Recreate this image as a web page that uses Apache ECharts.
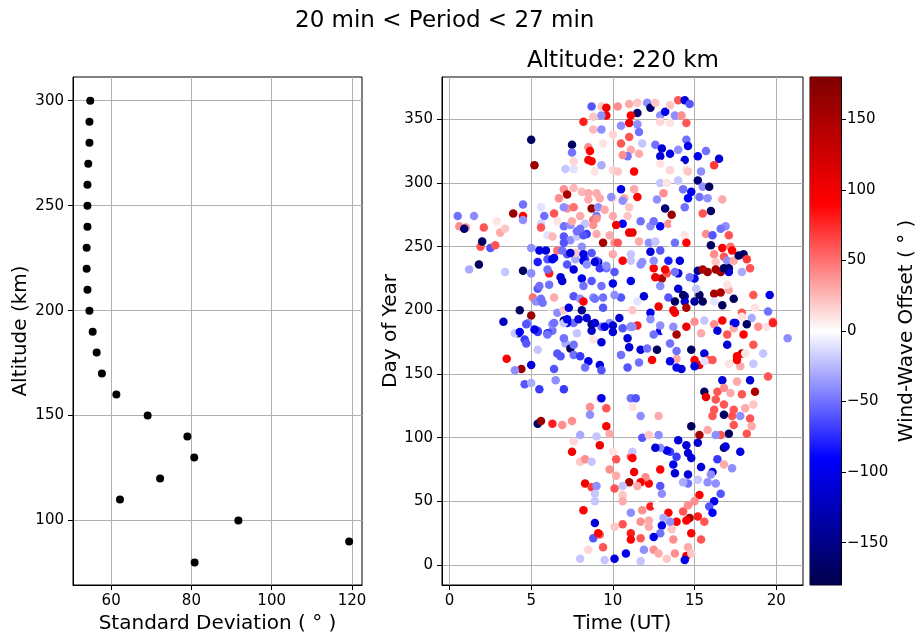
<!DOCTYPE html>
<html>
<head>
<meta charset="utf-8">
<script src="https://cdn.jsdelivr.net/npm/echarts@6/dist/echarts.min.js"></script>
<style>html,body{margin:0;padding:0;background:#fff}#chart{width:919px;height:635px}</style>
</head>
<body>
<div id="chart"></div>
<script>
// ---- Left panel: standard deviation vs altitude ----
const altitudes = [80, 90, 100, 110, 120, 130, 140, 150, 160, 170, 180, 190, 200, 210, 220, 230, 240, 250, 260, 270, 280, 290, 300];
const stdDeviation = [80.8, 119.3, 91.7, 62.2, 72.2, 80.7, 79.0, 69.1, 61.3, 57.7, 56.4, 55.4, 54.6, 54.1, 53.9, 53.9, 54.1, 54.1, 54.1, 54.3, 54.6, 54.6, 54.8];
const leftXTicks = [60, 80, 100, 120];
const leftYTicks = [100, 150, 200, 250, 300];

// ---- Right panel: [time (UT), day of year, wind-wave offset (deg)] ----
const windWavePoints = [
[8.7,360,-60],[8.2,348,80],[5.0,334,-170],[7.5,330,-170],[7.5,324,-50],[5.2,314,160],[7.1,311,-20],[8.5,328,40],[8.5,318,90],[8.8,352,20],
[7.0,295,40],[7.2,291,150],[7.6,296,25],[8.1,293,25],[6.7,288,40],[4.5,283,-50],[3.9,276,160],[4.5,274,90],[4.5,271,-40],[5.6,281,-10],
[5.8,274,-50],[6.4,276,60],[7.2,280,40],[7.6,281,50],[8.7,280,160],[8.5,287,30],[8.8,271,50],[0.5,274,-50],[1.5,274,-40],[0.6,266,40],
[1.0,265,40],[0.9,264,-160],[2.1,265,60],[2.9,270,10],[3.1,261,30],[3.4,264,20],[1.9,250,60],[2.0,254,-170],[2.5,249,-60],[2.8,251,60],
[1.2,232,-30],[1.8,236,-170],[3.4,230,-20],[4.5,231,-170],[5.0,249,-40],[5.0,229,-40],[4.3,200,-170],[3.3,191,-120],[5.0,196,160],[4.2,182,-150],
[5.6,268,-15],[6.0,259,-10],[6.3,258,25],[6.6,247,50],[7.0,258,-60],[7.4,255,-40],[7.8,258,-20],[8.1,250,-40],[8.4,260,-70],[5.5,247,-100],
[5.9,247,-110],[5.4,238,-80],[6.0,240,-60],[6.3,240,-90],[6.1,229,80],[6.0,232,-50],[6.8,226,-110],[6.9,223,-110],[7.2,236,-60],[7.6,232,-110],
[8.1,225,-100],[8.7,223,-60],[7.7,240,-30],[8.3,240,-70],[9.1,238,-100],[5.4,217,-60],[5.1,210,50],[5.3,207,-40],[6.1,203,0],[5.7,206,-50],
[6.4,210,30],[6.6,198,-40],[7.0,192,-170],[7.0,200,20],[7.3,202,-110],[7.6,211,-60],[8.0,209,-40],[8.1,200,-150],[8.2,207,90],[8.4,194,-110],
[8.8,210,-40],[8.7,184,-120],[7.6,190,-50],[6.3,184,-50],[5.4,184,-60],[4.8,190,-40],[6.0,182,-80],
[4.0,182,-20],[4.3,183,-100],[4.6,177,-70],[4.7,174,-60],[4.7,189,-60],[5.4,169,-20],[5.4,183,-70],[6.0,181,-50],[6.3,189,-40],[6.6,166,-60],
[6.8,164,-60],[7.1,174,-30],[7.4,170,-170],[7.6,165,-50],[8.0,164,-70],[8.5,160,-100],[8.7,189,-150],[7.8,182,-20],[8.8,177,10],[8.3,155,-50],
[9.2,157,-110],[3.5,162,90],[4.4,154,160],[4.0,153,-40],[5.0,157,-110],[4.6,142,-60],[5.0,143,-30],[5.5,138,-70],[6.4,154,-60],[6.5,145,-40],
[7.0,138,-70],[5.4,111,-170],[5.6,113,160],[6.3,111,80],[6.9,110,40],[7.5,113,40],[8.6,124,40],[8.6,118,-40],[9.2,131,15],[8.0,102,-30],
[7.6,97,15],[9.2,94,100],[7.5,89,100],[8.0,81,20],[8.3,83,40],[8.7,81,-20],[8.3,64,100],[8.7,61,70],[9.0,62,-40],[8.9,50,-20],
[8.2,43,90],[8.9,33,-110],[8.8,21,-60],[9.2,24,60],[8.5,12,15],[8.0,5,-20],
[9.3,360,20],[9.6,359,100],[9.6,353,100],[9.3,353,-40],[10.3,360,40],[11.0,362,30],[11.5,363,20],[11.5,355,-160],[11.1,353,90],[11.0,347,100],
[12.1,363,-40],[12.3,359,-160],[12.6,363,20],[12.9,353,-40],[13.2,356,-100],[13.5,361,20],[13.8,353,-40],[14.0,365,60],[14.4,365,-110],[14.7,362,-60],
[14.2,353,40],[14.5,347,60],[13.5,347,10],[12.9,348,15],[8.8,342,25],[9.3,342,-40],[10.5,345,-40],[11.5,346,-40],[11.6,340,-50],[11.0,336,60],
[10.0,338,15],[8.6,325,90],[8.7,317,90],[9.4,331,10],[10.5,331,60],[11.1,326,30],[11.6,323,30],[10.9,321,-50],[11.8,331,-20],[12.6,330,-50],
[13.0,327,-110],[12.9,321,-110],[13.5,323,-100],[14.0,326,-40],[14.5,334,-50],[14.6,329,-100],[14.4,318,-110],[15.2,321,-100],[15.7,325,-50],[16.5,319,-110],
[16.2,314,70],[7.6,311,-10],[8.9,309,10],[10.0,310,15],[11.3,309,90],[12.4,310,0],[12.9,315,10],[13.5,310,15],[14.1,314,0],[14.5,310,10],
[15.4,309,-40],[15.2,302,-160],[14.8,293,-100],[15.5,297,-40],[15.9,297,-170],[15.8,288,-40],[16.7,287,30],[14.6,288,-90],[14.4,281,-50],[14.0,302,-20],
[14.3,295,-50],[13.1,292,40],[13.2,280,-160],[13.6,275,160],[12.9,300,-20],[12.7,287,-40],[11.5,289,90],[11.3,295,30],[10.5,295,-100],[10.7,288,30],
[11.0,281,20],[10.0,288,10],[9.2,288,30],[9.1,281,-40],[7.0,281,-40],[8.0,274,30],[9.0,274,-50],[10.0,274,30],[10.6,268,-90],[10.2,267,100],
[10.9,274,20],[11.7,270,-50],[12.3,266,-40],[12.9,266,-90],[13.4,268,40],[14.4,259,10],[15.7,260,40],[16.1,259,-60],[16.9,266,-40],[17.1,259,60],
[7.0,266,-50],[7.4,267,-40],[7.8,262,-50],[8.2,259,-60],[8.8,267,40],[9.0,260,30],[9.4,253,150],[10.1,253,40],[10.3,253,60],[11.0,261,100],
[11.2,261,100],[11.6,254,30],[12.2,253,-40],[12.6,254,-20],[13.8,253,-50],[14.5,253,90],[16.0,251,-170],[16.7,249,90],[17.2,250,50],[18.0,244,-170],
[18.2,240,70],[16.2,244,40],[16.8,242,60],[16.3,238,20],[17.0,239,-40],[17.1,233,-160],[15.2,231,-150],[15.8,230,160],[16.6,230,160],[17.1,230,-110],
[17.9,230,-30],[18.4,233,60],[15.0,225,-100],[14.7,226,-50],[14.0,229,-110],[13.8,230,-50],[13.0,225,150],[12.6,226,100],[12.5,233,90],[13.3,229,60],
[13.4,239,-80],[14.1,239,-110],[13.5,247,0],[12.9,247,-60],[12.5,239,-40],[11.8,238,-40],[11.1,239,-20],[10.6,239,90],[9.6,233,-50],[10.1,230,-60],
[9.2,233,-70],[9.0,239,-60],[8.7,245,-60],[8.2,239,-100],[7.7,245,20],[7.2,244,-60],[6.9,247,-50],[11.1,223,-100],[11.9,211,-110],[11.5,207,-10],
[11.2,200,20],[10.5,210,-60],[10.1,212,-40],[9.4,210,-50],[9.4,202,-60],[8.9,209,-50],[9.3,187,-50],[9.8,190,-40],[10.4,194,-110],[10.6,186,-60],
[11.1,187,-60],[11.5,188,80],[12.3,198,-100],[12.8,203,100],[13.4,210,-60],[13.8,207,-170],[14.4,211,-110],[14.4,207,-110],[14.5,202,150],[13.8,198,90],
[15.0,207,-140],[15.3,212,-170],[15.5,207,-170],[15.1,217,-20],[16.2,213,150],[16.6,214,150],[17.1,216,30],[16.2,207,-10],[16.7,204,-170],[17.4,209,-170],
[17.9,211,0],[18.6,212,60],[19.6,212,-100],[19.5,199,-50],[18.7,202,10],[18.5,194,-30],[17.9,198,60],[17.4,190,-100],[16.7,192,90],[18.2,189,-170],
[18.9,187,40],[19.8,191,50],[16.2,189,40],[15.6,192,-20],[15.0,191,40],[14.5,187,100],[13.9,181,150],[12.9,183,-10],[20.7,178,-40],
[7.2,190,-100],[10.0,188,-110],[11.2,187,-40],[10.9,178,-110],[11.0,171,-110],[11.7,169,-110],[12.1,170,-50],[12.7,169,-170],[12.9,184,-100],[12.5,181,-50],
[13.7,187,-40],[13.5,174,-50],[13.9,162,30],[13.5,160,-100],[14.2,154,-110],[14.8,169,-170],[15.6,166,-110],[15.0,161,90],[15.3,157,100],[15.8,161,60],
[16.1,161,60],[15.0,156,-100],[16.4,184,-110],[16.2,178,0],[17.0,173,-110],[17.0,181,60],[17.4,186,30],[17.9,166,150],[17.6,164,90],[18.1,166,10],
[18.0,181,90],[18.6,173,60],[19.2,166,-20],[19.4,187,10],[19.8,190,80],[18.6,158,-20],[17.8,156,30],[17.1,158,10],[15.8,155,0],[15.6,160,-10],
[16.7,145,-110],[18.4,145,-110],[19.5,148,60],[17.6,144,30],[15.6,136,-170],[15.7,132,100],[16.4,136,60],[16.8,139,40],[17.2,135,30],[17.9,134,60],
[18.7,136,150],[18.6,126,20],[18.1,123,30],[17.8,117,-40],[18.4,115,60],[17.4,122,60],[16.8,118,-170],[16.2,122,60],[16.1,117,60],[16.3,130,60],
[16.8,126,60],[17.3,117,60],[17.4,110,60],[18.2,103,60],[18.5,109,30],[17.1,103,-170],[16.6,102,60],[16.3,102,-40],[15.8,106,30],[15.3,102,150],
[14.8,109,-170],[14.5,94,-110],[15.2,96,-110],[14.0,98,-110],[13.5,89,-70],[13.3,90,-100],[13.9,85,-70],[14.6,88,-110],[14.8,84,-110],[15.4,77,-110],
[16.4,83,-70],[16.8,92,-170],[16.9,93,-110],[17.8,89,-110],[16.8,79,30],[16.1,73,-110],[17.3,76,-40],[12.9,92,-40],[12.6,92,-110],[11.8,100,-60],
[12.2,102,20],[12.8,102,-40],[13.7,79,-100],[13.8,72,-110],[14.6,71,-110],[14.6,64,-50],[14.3,65,-30],[15.2,67,-20],[15.8,65,-40],[16.3,64,-40],
[16.0,71,-40],[16.6,56,-60],[16.2,50,-100],[15.9,46,-60],[16.1,41,-90],[15.3,55,90],[15.0,50,40],[14.7,37,150],[14.5,35,90],[14.3,42,60],
[14.6,47,40],[15.2,38,80],[15.6,34,60],[14.8,25,90],[15.4,20,60],[14.6,14,30],[14.5,7,100],[14.8,9,20],[14.4,4,-100],[13.8,9,40],
[13.7,20,40],[13.6,28,20],[13.4,41,90],[13.9,34,90],[13.5,34,-40],[13.1,37,-30],[13.0,31,-100],[12.9,25,-50],[12.5,22,-100],[12.2,30,30],
[12.3,46,80],[12.7,47,0],[12.9,62,-60],[13.0,56,-40],[12.2,64,90],[12.0,69,40],[11.7,65,100],[11.5,62,30],[11.3,73,100],[11.0,65,150],
[11.1,85,60],[10.6,62,-20],[10.2,70,30],[10.1,60,60],[9.8,75,40],[10.2,83,60],[10.0,89,10],[11.2,89,-20],[10.6,55,20],[10.6,50,30],
[11.1,41,-40],[11.7,34,40],[11.8,43,40],[12.2,35,30],[10.6,32,60],[10.1,30,20],[11.1,25,80],[11.1,20,90],[11.7,21,60],[11.9,12,-40],
[12.5,12,40],[12.8,9,30],[13.3,5,20],[11.7,3,-20],[10.8,9,-100],[10.1,5,-110],[9.5,4,-20],[9.4,14,60],[9.1,25,90],[8.9,56,-20],
[9.3,131,-100],[11.1,131,-50],[11.4,131,-60],[11.2,124,10],[9.6,123,60],[9.6,109,90],[9.8,103,30],[9.0,101,-20],[11.7,117,-40],[12.8,117,30],
[11.2,84,90],[12.9,75,90],
[9.3,314,-30],[7.6,317,15],[10.3,309,20],[10.6,322,40],[14.6,309,20],[13.3,300,10],[15.3,289,-50],[16.0,278,-170],[15.5,276,60],[16.6,264,-50],
[10.6,286,-40],[9.9,289,-40],[9.0,292,30],[8.5,292,30],[9.5,279,30],[9.0,272,40],[8.3,268,-20],[7.5,270,30],[6.6,270,10],[5.6,265,60],
[7.0,253,-60],[8.0,264,-50],[9.8,259,30],[12.5,270,-50],[13.8,268,0],[6.4,241,-100],[7.4,245,-110],[8.2,244,-100],[8.4,236,-40],[8.9,238,-110],
[9.6,235,-40],[10.0,244,30],[11.1,244,-20],[11.7,236,-40],[12.3,246,-110],[13.2,232,90],[15.5,232,150],[16.3,232,150],[16.8,233,-170],[17.4,239,30],
[17.7,243,-170],[17.3,247,90],[5.5,219,-50],[6.1,220,-50],[8.2,219,-50],[9.3,219,-50],[10.0,221,-100],[12.9,219,-40],[14.0,217,-110],[14.3,212,-170],
[17.0,220,10],[17.4,202,0],[17.5,190,-100],[17.9,195,10],[17.6,161,90],[13.7,200,100],[15.4,182,30],[13.2,184,0],[12.9,188,-40],[12.3,193,-40],
[11.1,187,-40],[10.0,183,-110],[9.5,187,-100],[8.9,190,-110],[9.3,175,-110],[7.6,173,-50],[10.5,165,-50],[10.9,155,-60],[11.6,159,-50],[12.4,161,90],
[13.9,155,-100],[13.9,168,-50],[5.6,209,-50],[7.0,190,-20],[7.0,178,-50],[7.9,193,-110],[7.2,193,-100],[6.4,190,-50],[5.2,185,-100],[9.3,153,-60]
];
const rightXTicks = [0, 5, 10, 15, 20];
const rightYTicks = [0, 50, 100, 150, 200, 250, 300, 350];

// ---- Colorbar ----
const offsetRange = [-180, 180];
const colorbarTicks = [-150, -100, -50, 0, 50, 100, 150];
const seismicColors = ['#00004c', '#0000ff', '#ffffff', '#ff0000', '#7f0000'];

const FONT = 'DejaVu Sans';
const fmt = v => String(v).replace('-', '\u2212');
const gridLine = { show: true, lineStyle: { color: '#b0b0b0', width: 1 } };
function valueAxis(gridIndex, min, max, ticks, extra) {
  return Object.assign({
    type: 'value', gridIndex, min, max,
    axisLine: { show: true, onZero: false, lineStyle: { color: '#000', width: 1 } },
    axisTick: { show: true, length: 5, lineStyle: { color: '#000' }, customValues: ticks },
    axisLabel: { show: true, customValues: ticks, formatter: fmt, color: '#000', fontFamily: FONT, fontSize: 15, margin: 9 },
    splitLine: gridLine,
    nameLocation: 'middle',
    nameTextStyle: { color: '#000', fontFamily: FONT, fontSize: 20 }
  }, extra || {});
}
const gridBase = { show: true, borderColor: '#000', borderWidth: 1, backgroundColor: 'transparent', containLabel: false, outerBoundsMode: 'none' };

const chart = echarts.init(document.getElementById('chart'), null, { renderer: 'canvas' });
chart.setOption({
  backgroundColor: '#fff',
  animation: false,
  title: [
    { text: '20 min < Period < 27 min', left: 295, top: 10, padding: 0,
      textStyle: { fontFamily: FONT, fontSize: 23, fontWeight: 'normal', color: '#000' } },
    { text: 'Altitude: 220 km', left: 527, top: 50, padding: 0,
      textStyle: { fontFamily: FONT, fontSize: 23, fontWeight: 'normal', color: '#000' } }
  ],
  grid: [
    Object.assign({ left: 73, top: 77, width: 289, height: 508 }, gridBase),
    Object.assign({ left: 442, top: 77, width: 361, height: 508 }, gridBase),
    Object.assign({ left: 810, top: 77, width: 31, height: 508 }, gridBase)
  ],
  xAxis: [
    valueAxis(0, 50.5, 122.5, leftXTicks, { name: 'Standard Deviation ( \u00B0 )', nameGap: 27 }),
    valueAxis(1, -0.46, 21.64, rightXTicks, { name: 'Time (UT)', nameGap: 27 }),
    { type: 'value', gridIndex: 2, min: 0, max: 1, show: false }
  ],
  yAxis: [
    valueAxis(0, 69.3, 311.3, leftYTicks, { name: 'Altitude (km)', nameGap: 42, nameRotate: 90 }),
    valueAxis(1, -15.7, 383.2, rightYTicks, { name: 'Day of Year', nameGap: 40, nameRotate: 90 }),
    valueAxis(2, offsetRange[0], offsetRange[1], colorbarTicks, {
      position: 'right', name: 'Wind-Wave Offset ( \u00B0 )', nameGap: 56, nameRotate: 90,
      splitLine: { show: false },
      axisLabel: { show: true, customValues: colorbarTicks, formatter: fmt, color: '#000', fontFamily: FONT, fontSize: 15, margin: 6 }
    })
  ],
  visualMap: {
    type: 'continuous', show: false, min: offsetRange[0], max: offsetRange[1],
    dimension: 2, seriesIndex: 1, inRange: { color: seismicColors }
  },
  series: [
    { type: 'scatter', xAxisIndex: 0, yAxisIndex: 0, symbolSize: 8,
      itemStyle: { color: '#000', opacity: 1 },
      data: altitudes.map((a, i) => [stdDeviation[i], a]) },
    { type: 'scatter', xAxisIndex: 1, yAxisIndex: 1, symbolSize: 8.5,
      itemStyle: { opacity: 1 },
      data: windWavePoints },
    { type: 'custom', xAxisIndex: 2, yAxisIndex: 2, silent: true,
      data: [[0, offsetRange[0], offsetRange[1]]],
      renderItem: function (params, api) {
        const p0 = api.coord([0, api.value(2)]);
        const p1 = api.coord([1, api.value(1)]);
        return { type: 'rect',
          shape: { x: p0[0], y: p0[1], width: p1[0] - p0[0], height: p1[1] - p0[1] },
          style: { fill: new echarts.graphic.LinearGradient(0, 0, 0, 1, [
            { offset: 0, color: seismicColors[4] }, { offset: 0.25, color: seismicColors[3] },
            { offset: 0.5, color: seismicColors[2] }, { offset: 0.75, color: seismicColors[1] },
            { offset: 1, color: seismicColors[0] }]) } };
      } }
  ]
});
</script>
</body>
</html>
